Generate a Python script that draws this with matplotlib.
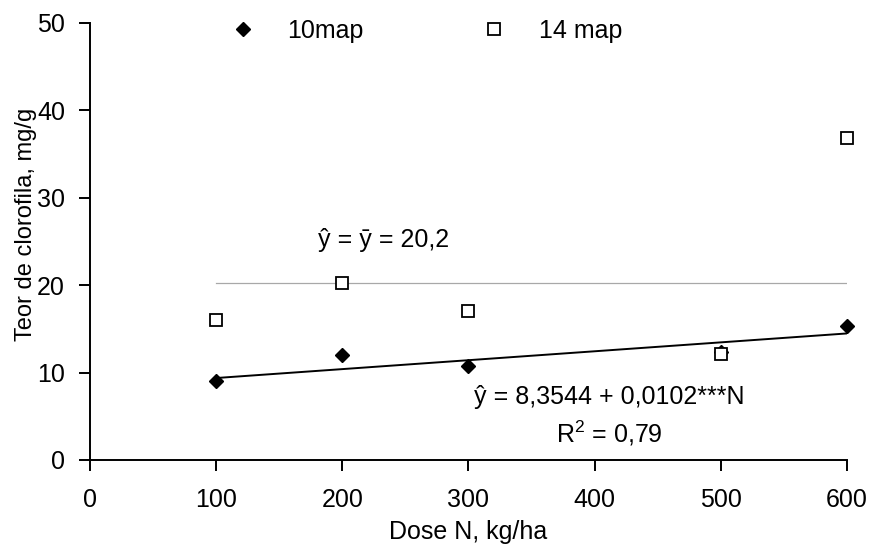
import numpy as np
import matplotlib.pyplot as plt

# data
doses = [100, 200, 300, 500, 600]
map10 = [9.0, 12.0, 10.7, 12.4, 15.3]
map14 = [16.0, 20.2, 17.0, 12.1, 36.8]
mean14 = 20.2
intercept, slope = 8.3544, 0.0102

plt.rcParams["font.family"] = ["Liberation Sans", "DejaVu Sans"]
plt.rcParams["mathtext.fontset"] = "custom"
plt.rcParams["mathtext.rm"] = "Liberation Sans"
plt.rcParams["mathtext.it"] = "Liberation Sans"

FS = 18


def plot():
    fig = plt.figure(figsize=(8.7, 5.45), dpi=100)
    ax = fig.add_axes([0.1034, 0.156, 0.870, 0.802])

    x_line = np.array([doses[0], doses[-1]])
    ax.plot(x_line, [mean14, mean14], color="#a8a8a8", linewidth=0.9, zorder=1)
    ax.plot(x_line, intercept + slope * x_line, color="black", linewidth=1.4, zorder=2)

    ax.plot(doses, map10, linestyle="none", marker="D", markersize=7,
            color="black", label="10map", zorder=3, clip_on=False)
    ax.plot(doses, map14, linestyle="none", marker="s", markersize=8.5,
            markerfacecolor="white", markeredgecolor="black",
            markeredgewidth=1.3, label="14 map", zorder=4, clip_on=False)

    ax.text(233, 25.2, "ŷ = ȳ = 20,2", fontsize=FS, ha="center", va="center")
    ax.text(412, 7.2, "ŷ = 8,3544 + 0,0102***N", fontsize=FS, ha="center", va="center")
    ax.text(412, 3.0, "R$^2$ = 0,79", fontsize=FS, ha="center", va="center")

    ax.set_xlim(0, 600)
    ax.set_ylim(0, 50)
    ax.set_xticks(range(0, 601, 100))
    ax.set_yticks(range(0, 51, 10))
    ax.tick_params(direction="out", length=8, width=1.4, labelsize=FS)
    ax.tick_params(axis="x", pad=12)
    ax.tick_params(axis="y", pad=10)
    for side in ["top", "right"]:
        ax.spines[side].set_visible(False)
    for side in ["left", "bottom"]:
        ax.spines[side].set_linewidth(1.4)

    ax.set_xlabel("Dose N, kg/ha", fontsize=FS, labelpad=6)
    ax.set_ylabel("Teor de clorofila, mg/g", fontsize=17)
    ax.yaxis.set_label_coords(-0.070, 0.538)

    ax.legend(loc="upper center", bbox_to_anchor=(0.436, 1.06), ncol=2,
              frameon=False, fontsize=FS, columnspacing=4.2, handletextpad=0.8)

    fig.savefig("out.png", dpi=100)


if __name__ == "__main__":
    plot()
